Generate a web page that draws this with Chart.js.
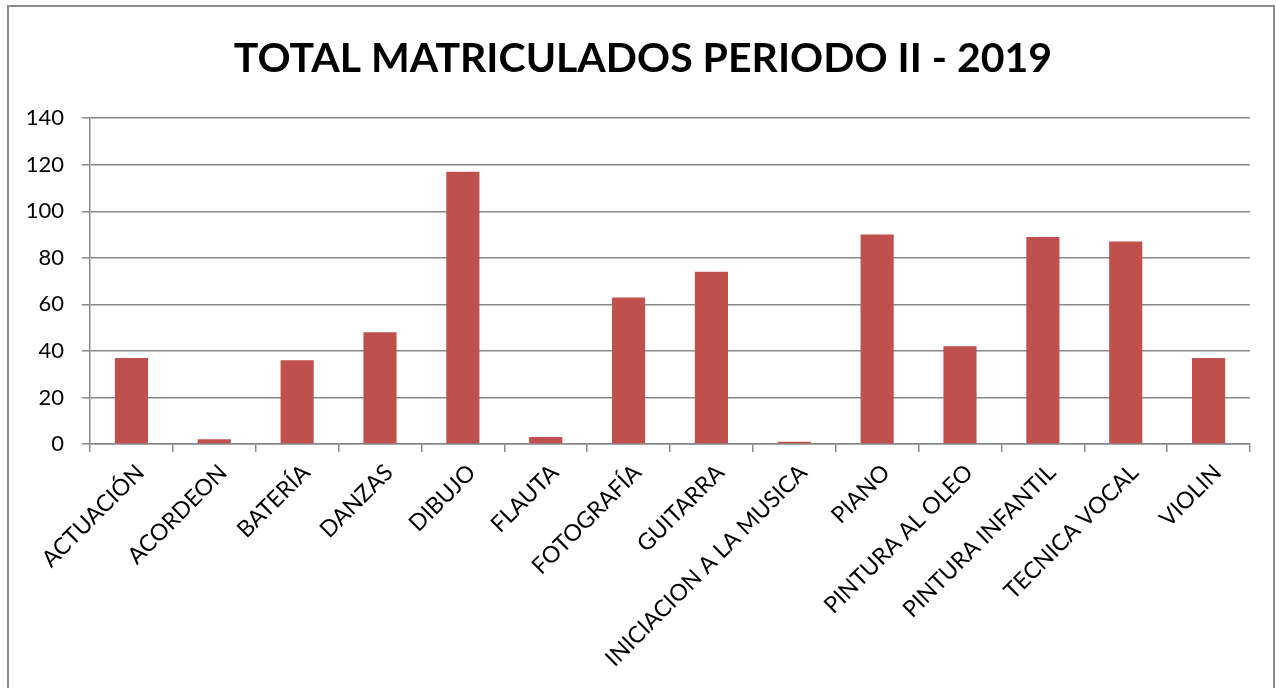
<!DOCTYPE html>
<html>
<head>
<meta charset="utf-8">
<script src="https://cdn.jsdelivr.net/npm/chart.js@4.4.0/dist/chart.umd.min.js"></script>
<style>
  body { margin: 0; background: #fff; overflow: hidden; }
  #marco { position: absolute; left: 7px; top: 5px; width: 1264px; height: 700px; border: 2px solid #8c8c8c; }
  #contenedor { position: absolute; left: 0; top: 0; width: 1276px; height: 688px; }
</style>
</head>
<body>
<div id="marco"></div>
<div id="contenedor"><canvas id="canvas_grafico"></canvas></div>
<script>
// datos del grafico
var cursos = ['ACTUACIÓN', 'ACORDEON', 'BATERÍA', 'DANZAS', 'DIBUJO', 'FLAUTA', 'FOTOGRAFÍA',
    'GUITARRA', 'INICIACION A LA MUSICA', 'PIANO', 'PINTURA AL OLEO', 'PINTURA INFANTIL',
    'TECNICA VOCAL', 'VIOLIN'];
var matriculados = [37, 2, 36, 48, 117, 3, 63, 74, 1, 90, 42, 89, 87, 37];
var titulo = 'TOTAL MATRICULADOS PERIODO II - 2019';

var gris = '#888888';
var fuente = 'Lato, "Open Sans", sans-serif';

const ctx = document.getElementById('canvas_grafico').getContext('2d');
const myChart = new Chart(ctx, {
    type: 'bar',
    data: {
        labels: cursos,
        datasets: [{
            label: 'Matriculados',
            data: matriculados,
            backgroundColor: '#C0504D',
            borderWidth: 0,
            barPercentage: 0.4,
            categoryPercentage: 1.0
        }]
    },
    options: {
        responsive: true,
        maintainAspectRatio: false,
        animation: false,
        layout: { padding: { left: 10, right: 0, top: 0, bottom: 0 } },
        plugins: {
            legend: { display: false },
            tooltip: { enabled: false },
            title: {
                display: true,
                text: titulo,
                color: '#000',
                font: { family: fuente, size: 41, weight: 'bold', lineHeight: 1.2 },
                padding: { top: 34, bottom: 35 }
            }
        },
        scales: {
            x: {
                grid: { display: true, drawOnChartArea: false, drawTicks: true, tickLength: 8, color: gris, lineWidth: 1.5 },
                border: { display: true, color: gris, width: 1.5 },
                ticks: {
                    color: '#000',
                    font: { family: fuente, size: 23 },
                    maxRotation: 45,
                    minRotation: 45,
                    autoSkip: false,
                    labelOffset: 9,
                    padding: 7
                },
                afterFit: function (scale) {
                    scale.height = 244;
                    scale.paddingRight = 26; // espacio a la derecha del area del grafico
                }
            },
            y: {
                min: 0,
                max: 140,
                grid: { color: gris, lineWidth: 1.5, tickLength: 8 },
                border: { display: true, color: gris, width: 1.5 },
                ticks: {
                    stepSize: 20,
                    color: '#000',
                    font: { family: fuente, size: 22 },
                    padding: 18
                },
                afterFit: function (scale) { scale.width = 80; }
            }
        }
    }
});
</script>
</body>
</html>
